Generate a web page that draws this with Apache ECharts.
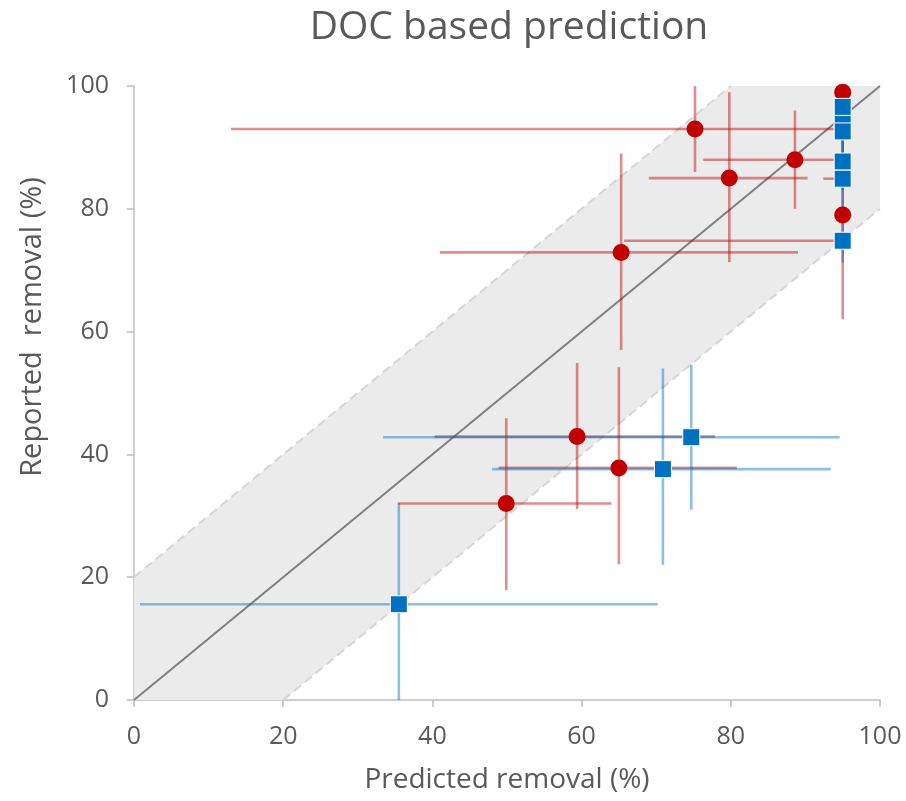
<!DOCTYPE html>
<html>
<head>
<meta charset="utf-8">
<title>DOC based prediction</title>
<script src="https://cdn.jsdelivr.net/npm/echarts@6/dist/echarts.min.js"></script>
<style>
  html, body { margin: 0; padding: 0; background: #ffffff; }
  #chart { width: 906px; height: 801px; }
</style>
</head>
<body>
<div id="chart"></div>
<script>
// Axis ticks (percent removal)
const xTicks = [0, 20, 40, 60, 80, 100];
const yTicks = [0, 20, 40, 60, 80, 100];

// ±20 % agreement band around the 1:1 line
const bandPolygon = [[0, 0], [0, 20], [80, 100], [100, 100], [100, 80], [20, 0]];
const bandUpperEdge = [[0, 20], [80, 100]];
const bandLowerEdge = [[20, 0], [100, 80]];
const oneToOne = [[0, 0], [100, 100]];

// Red circles: [predicted, reported, predLow, predHigh, reportedLow, reportedHigh]
const redPoints = [
  [95.0, 74.8, 65.7, 95.0, 74.8, 74.8],
  [95.0, 84.9, 92.4, 95.0, 84.9, 84.9],
  [95.0, 99.0, 95.0, 95.0, 96.0, 100.0],
  [75.2, 93.0, 13.0, 95.0, 86.0, 100.0],
  [79.8, 85.0, 69.0, 90.3, 71.3, 99.0],
  [88.6, 88.0, 76.3, 95.0, 80.0, 96.0],
  [65.3, 72.9, 41.0, 89.0, 57.0, 89.0],
  [95.0, 79.0, 95.0, 95.0, 62.0, 95.0],
  [59.4, 42.9, 40.3, 77.9, 31.1, 54.9],
  [65.0, 37.8, 48.9, 80.8, 22.1, 54.2],
  [49.9, 32.0, 35.4, 64.0, 17.9, 45.9]
];

// Blue squares: [predicted, reported, predLow, predHigh, reportedLow, reportedHigh]
const bluePoints = [
  [95.0, 96.6, 95.0, 95.0, 93.0, 100.0],
  [95.0, 93.8, 95.0, 95.0, 90.0, 97.0],
  [95.0, 92.6, 95.0, 95.0, 88.0, 96.0],
  [95.0, 87.7, 95.0, 95.0, 83.0, 92.0],
  [95.0, 84.9, 95.0, 95.0, 78.0, 90.0],
  [95.0, 74.8, 95.0, 95.0, 71.2, 80.0],
  [74.7, 42.8, 33.4, 94.6, 31.0, 54.6],
  [70.9, 37.6, 48.0, 93.4, 22.0, 54.0],
  [35.5, 15.6, 0.8, 70.2, 0.0, 32.1]
];

const textColor = '#595959';
const axisColor = '#BFBFBF';
const fontFamily = '"Open Sans", Lato, sans-serif';

function errorBars(color) {
  return function (params, api) {
    const x = api.value(0), y = api.value(1);
    const xlo = api.value(2), xhi = api.value(3);
    const ylo = api.value(4), yhi = api.value(5);
    const children = [];
    const style = { stroke: color, lineWidth: 2.6 };
    if (xhi > xlo) {
      const a = api.coord([xlo, y]), b = api.coord([xhi, y]);
      children.push({ type: 'line', shape: { x1: a[0], y1: a[1], x2: b[0], y2: b[1] }, style });
    }
    if (yhi > ylo) {
      const a = api.coord([x, ylo]), b = api.coord([x, yhi]);
      children.push({ type: 'line', shape: { x1: a[0], y1: a[1], x2: b[0], y2: b[1] }, style });
    }
    return { type: 'group', children };
  };
}

const chart = echarts.init(document.getElementById('chart'), null, { renderer: 'canvas' });

chart.setOption({
  animation: false,
  backgroundColor: '#ffffff',
  title: {
    text: 'DOC based prediction',
    left: 504,
    top: 3,
    textAlign: 'center',
    textStyle: { color: textColor, fontSize: 39, fontWeight: 'normal', fontFamily }
  },
  grid: { left: 134, right: 26, top: 86, bottom: 101 },
  xAxis: {
    type: 'value',
    min: xTicks[0],
    max: xTicks[xTicks.length - 1],
    interval: xTicks[1] - xTicks[0],
    name: 'Predicted removal (%)',
    nameLocation: 'middle',
    nameGap: 66,
    nameTextStyle: { color: textColor, fontSize: 28, fontFamily },
    axisLine: { show: true, lineStyle: { color: axisColor, width: 1.5 } },
    axisTick: { show: true, inside: false, length: 7, lineStyle: { color: axisColor, width: 1.5 } },
    axisLabel: { color: textColor, fontSize: 25, fontFamily, margin: 24 },
    splitLine: { show: false }
  },
  yAxis: {
    type: 'value',
    min: yTicks[0],
    max: yTicks[yTicks.length - 1],
    interval: yTicks[1] - yTicks[0],
    name: 'Reported  removal (%)',
    nameLocation: 'middle',
    nameGap: 87,
    // the title sits above the middle of the axis
    nameTextStyle: { color: textColor, fontSize: 29, fontFamily, padding: [0, 0, 0, 132] },
    axisLine: { show: true, lineStyle: { color: axisColor, width: 1.5 } },
    axisTick: { show: true, inside: false, length: 7, lineStyle: { color: axisColor, width: 1.5 } },
    axisLabel: { color: textColor, fontSize: 25, fontFamily, margin: 25 },
    splitLine: { show: false }
  },
  series: [
    {
      type: 'custom',
      name: 'band',
      z: 1,
      silent: true,
      data: [[0, 0]],
      renderItem: function (params, api) {
        return {
          type: 'polygon',
          shape: { points: bandPolygon.map(p => api.coord(p)) },
          style: { fill: '#EBEBEB' }
        };
      }
    },
    {
      type: 'line', z: 2, silent: true, symbol: 'none',
      data: bandUpperEdge,
      lineStyle: { color: '#D6D6D6', width: 2, type: [9, 5] }
    },
    {
      type: 'line', z: 2, silent: true, symbol: 'none',
      data: bandLowerEdge,
      lineStyle: { color: '#D6D6D6', width: 2, type: [9, 5] }
    },
    {
      type: 'line', z: 2, silent: true, symbol: 'none',
      data: oneToOne,
      lineStyle: { color: '#7F7F7F', width: 2 }
    },
    {
      type: 'custom', z: 3, silent: true,
      data: redPoints,
      encode: { x: [0, 2, 3], y: [1, 4, 5] },
      renderItem: errorBars('rgba(192,0,0,0.45)')
    },
    {
      type: 'custom', z: 4, silent: true,
      data: bluePoints,
      encode: { x: [0, 2, 3], y: [1, 4, 5] },
      renderItem: errorBars('rgba(0,112,192,0.45)')
    },
    {
      type: 'scatter', z: 5,
      symbol: 'circle', symbolSize: 17,
      itemStyle: { color: '#C00000', opacity: 1 },
      data: redPoints.map(p => [p[0], p[1]])
    },
    {
      type: 'scatter', z: 6,
      symbol: 'rect', symbolSize: 17,
      itemStyle: { color: '#0070C0', borderColor: '#ffffff', borderWidth: 1, opacity: 1 },
      data: bluePoints.map(p => [p[0], p[1]])
    }
  ]
});
</script>
</body>
</html>
